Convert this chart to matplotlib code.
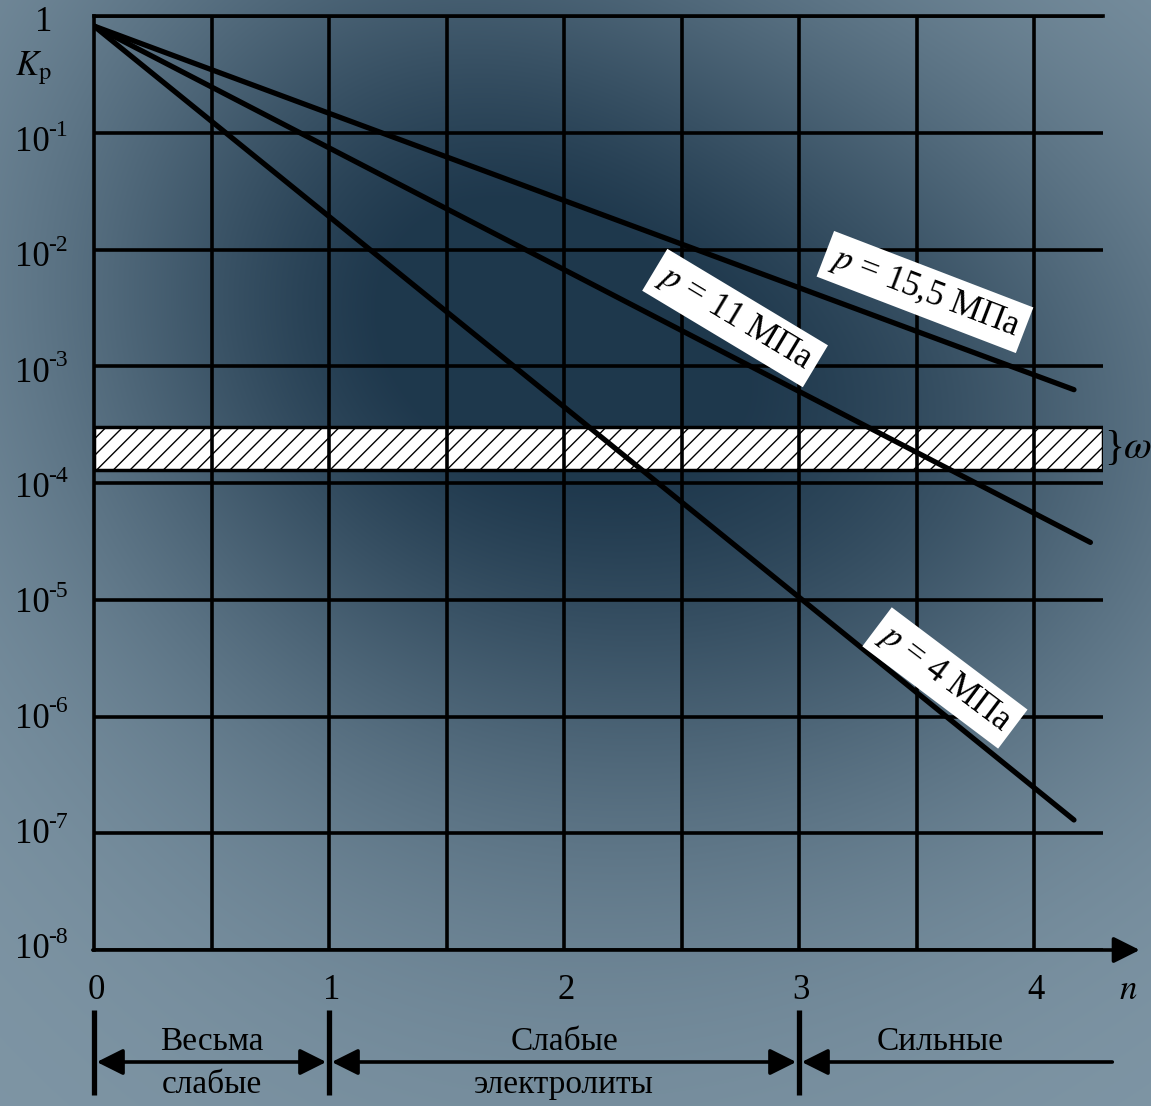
import numpy as np
import matplotlib
matplotlib.use("Agg")
import matplotlib.pyplot as plt
from matplotlib.transforms import offset_copy

plt.rcParams['font.family'] = ['Liberation Serif', 'DejaVu Serif']
plt.rcParams['mathtext.fontset'] = 'stix'
plt.rcParams['hatch.linewidth'] = 1.0

# data: straight lines in log scale, start and end points
n_start = 0.0
k_start = 0.82
pressures = ["15,5", "11", "4"]
n_end = [4.17, 4.24, 4.17]
k_end = [6.3e-4, 3.1e-5, 1.3e-7]

decades = [0, -1, -2, -3, -4, -5, -6, -7, -8]
x_ticks = [0, 1, 2, 3, 4]
band_low, band_high = 1.3e-4, 3.0e-4   # omega band
zones = ["Весьма\nслабые", "Слабые\nэлектролиты", "Сильные"]
zone_bounds = [0, 1, 3, 4.345]

W, H = 1151, 1106
fig = plt.figure(figsize=(W / 100, H / 100), dpi=100)

# background (blue-grey photo approximated by a gradient)
yy, xx = np.mgrid[0:H, 0:W]
light = np.array([0.50, 0.59, 0.65])
dark = np.array([0.12, 0.22, 0.30])
t = 0.85 * np.exp(-((xx - 430) ** 2 + (yy - 260) ** 2) / (2 * 280.0 ** 2))
t += 0.55 * np.exp(-((xx - 900) ** 2 + (yy - 420) ** 2) / (2 * 260.0 ** 2))
t += 0.25 * np.exp(-((xx - 550) ** 2 + (yy - 650) ** 2) / (2 * 300.0 ** 2))
t = np.clip(t, 0, 1)[..., None]
bg = light * (1 - t) + dark * t
bga = fig.add_axes([0, 0, 1, 1], zorder=-5)
bga.imshow(bg, aspect='auto', extent=[0, W, H, 0])
bga.axis('off')

ax = fig.add_axes([94 / W, 1 - 950 / H, 1009 / W, 934 / H])
ax.patch.set_alpha(0)
ax.set_yscale('log')
ax.set_xlim(0, 1009 / 235)
ax.set_ylim(1e-8, 1)

lw_grid = 2.6
for d in decades:
    ax.axhline(10.0 ** d, color='black', lw=lw_grid, zorder=2)
for v in np.arange(0.5, 4.01, 0.5):
    ax.axvline(v, color='black', lw=lw_grid, zorder=2)

ax.axhspan(band_low, band_high, facecolor='white', edgecolor='black',
           hatch='//', lw=2.5, zorder=1)

for ne, ke in zip(n_end, k_end):
    ax.plot([n_start, ne], [k_start, ke], color='black', lw=3.8,
            solid_capstyle='round', zorder=4)

for s in ['right', 'bottom']:
    ax.spines[s].set_visible(False)
for s in ['left', 'top']:
    ax.spines[s].set_linewidth(lw_grid)
ax.set_xticks([])
ax.set_yticks([])
ax.minorticks_off()

fs = 25
tr = ax.get_xaxis_transform()
ty = ax.get_yaxis_transform()

# x axis with arrow
ax.annotate('', xy=(4.45, 0), xytext=(-0.005, 0), xycoords=tr, textcoords=tr,
            arrowprops=dict(arrowstyle='-|>', color='black', lw=lw_grid,
                            mutation_scale=40, shrinkA=0, shrinkB=0),
            annotation_clip=False)
for v in x_ticks:
    ax.text(v + 0.01, -0.043, str(v), transform=tr, ha='center', va='center',
            fontsize=fs)
ax.text(4.4, -0.043, '$n$', transform=tr, ha='center', va='center', fontsize=fs)

# y labels
ax.text(-0.0585, 0.993, '1', transform=ax.transAxes, ha='left', va='center',
        fontsize=fs)
ax.text(-0.078, 0.944, r'$K_\mathrm{p}$', transform=ax.transAxes, ha='left',
        va='center', fontsize=fs)
exp_tr = offset_copy(ty, fig=fig, x=24, y=9, units='points')
for d in decades[1:]:
    off = 10 ** (-(8 + d) * 0.012)
    ax.text(-0.0783, 10.0 ** d * off, '10', transform=ty,
            ha='left', va='center', fontsize=fs)
    ax.text(-0.0783, 10.0 ** d * off, '-%d' % -d, transform=exp_tr,
            ha='left', va='center', fontsize=17)

# omega brace
ax.text(1.001, np.sqrt(band_low * band_high), '}', transform=ty, ha='left',
        va='center', fontsize=30)
ax.text(1.02, np.sqrt(band_low * band_high), r'$\omega$', transform=ty,
        ha='left', va='center', fontsize=fs + 4)

# pressure labels
box = dict(facecolor='white', edgecolor='none', pad=5)
ax.text(3.536, 10 ** -2.364, '$p$ = 15,5 МПа', rotation=-21, ha='center',
        va='center', rotation_mode='anchor', fontsize=25, bbox=box, zorder=5)
ax.text(2.728, 10 ** -2.587, '$p$ = 11 МПа', rotation=-31, ha='center',
        va='center', rotation_mode='anchor', fontsize=25, bbox=box, zorder=5)
ax.text(3.621, 10 ** -5.67, '$p$ = 4 МПа', rotation=-37, ha='center',
        va='center', rotation_mode='anchor', fontsize=25, bbox=box, zorder=5)

# electrolyte zones
y_arrow = -(1062 - 950) / 934
for b in zone_bounds[:3]:
    ax.plot([b, b], [-(1010 - 950) / 934, -(1095 - 950) / 934], color='black',
            lw=3.8, transform=tr, clip_on=False, solid_capstyle='butt')
for i, label in enumerate(zones):
    a, b = zone_bounds[i], zone_bounds[i + 1]
    style = '<|-|>' if i < 2 else '<|-'
    ax.annotate('', xy=(b, y_arrow), xytext=(a, y_arrow), xycoords=tr,
                textcoords=tr,
                arrowprops=dict(arrowstyle=style, color='black', lw=2.6,
                                mutation_scale=40, shrinkA=2, shrinkB=2),
                annotation_clip=False)
    mid = (a + b) / 2 if i < 2 else 3.6
    lines = label.split('\n')
    ax.text(mid, -(1042 - 950) / 934, lines[0], transform=tr, ha='center',
            va='center', fontsize=24)
    if len(lines) > 1:
        ax.text(mid, -(1085 - 950) / 934, lines[1], transform=tr, ha='center',
                va='center', fontsize=24)

fig.savefig('out.png', dpi=100)
